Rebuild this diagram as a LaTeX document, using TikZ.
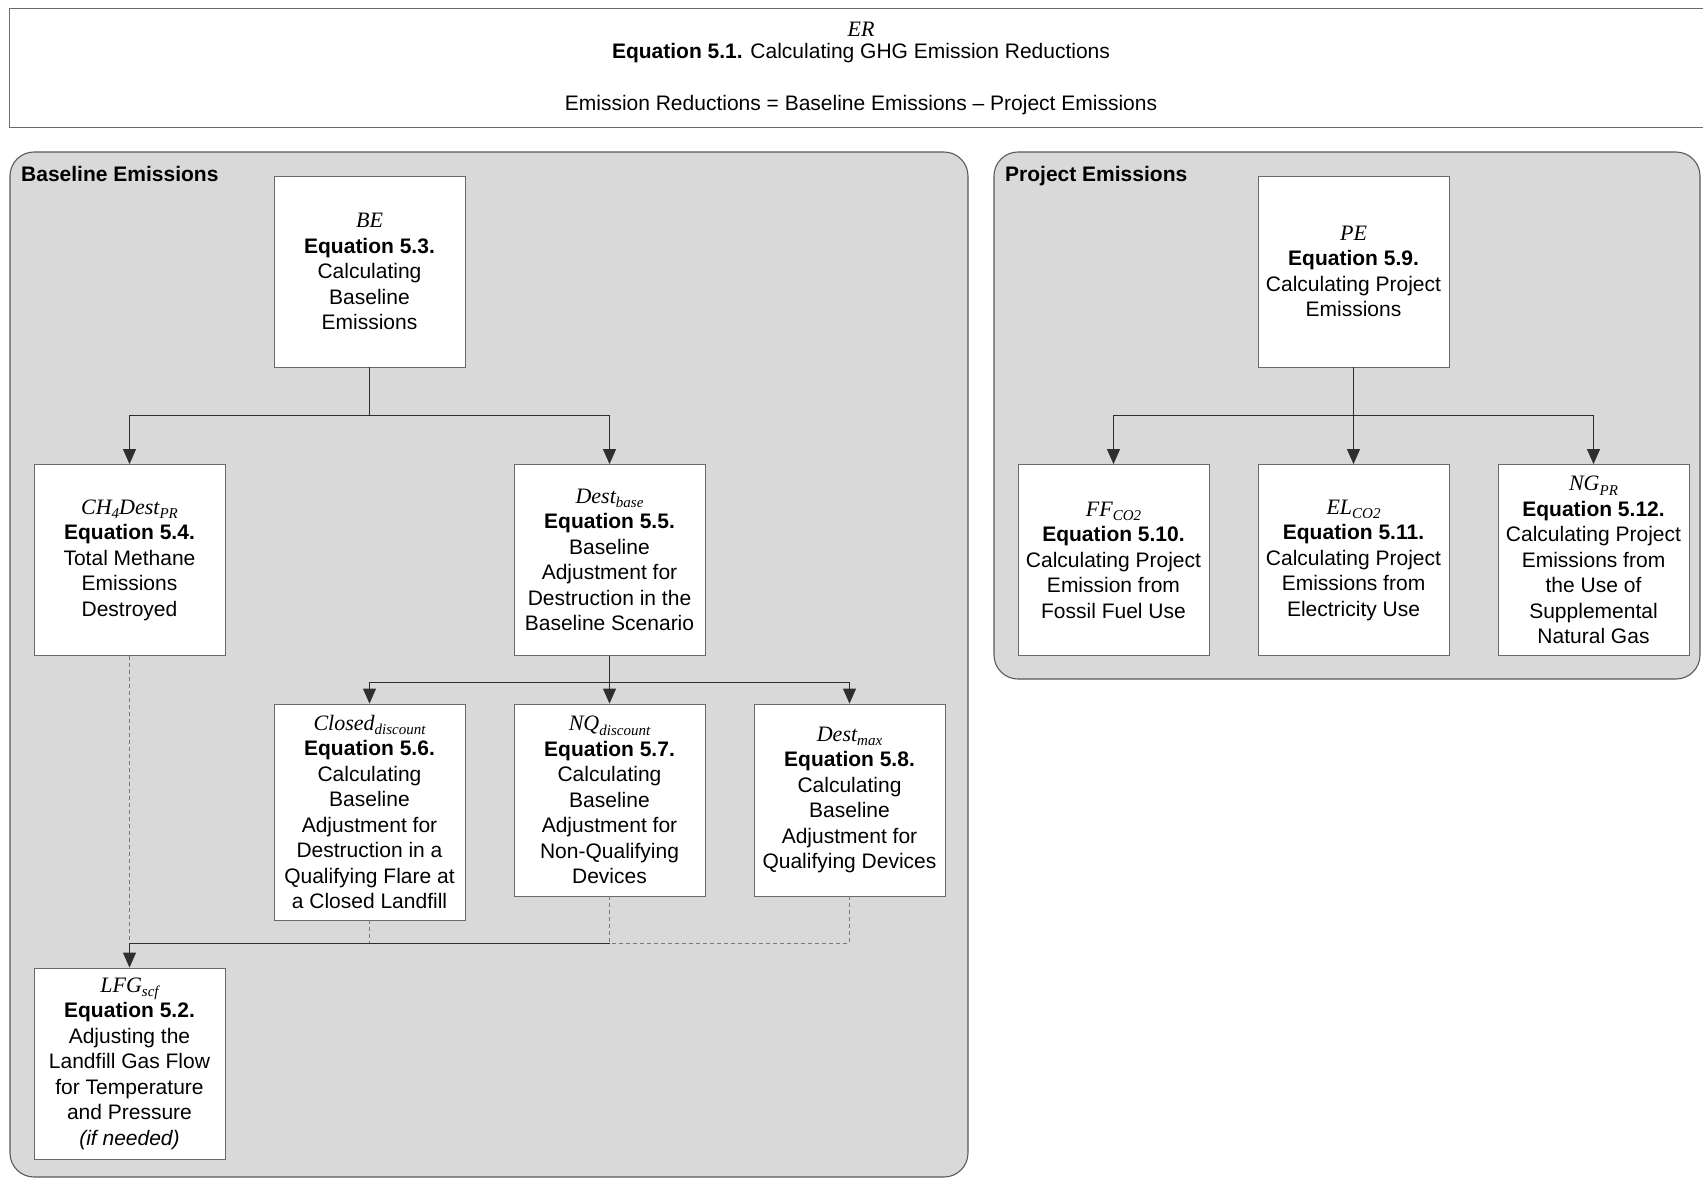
\documentclass[tikz,border=0pt]{standalone}
\usepackage{fontspec}
\setmainfont{Liberation Sans}
\newfontfamily\varfont{Liberation Serif}
\usetikzlibrary{arrows.meta}
\newcommand{\vr}[1]{{\fontsize{22}{25.5}\selectfont\varfont\itshape #1}}
\newcommand{\vsub}[1]{\raisebox{-0.22em}{\fontsize{15}{15}\selectfont\varfont\itshape #1}}
\definecolor{grpfill}{HTML}{D9D9D9}
\definecolor{grpline}{HTML}{5A5A5A}
\definecolor{boxline}{HTML}{6A6A6A}
\definecolor{conline}{HTML}{2E2E2E}
\definecolor{dashline}{HTML}{7A7A7A}
\begin{document}
\begin{tikzpicture}[x=1pt,y=-1pt,
  eqbox/.style={draw=boxline, line width=0.9pt, fill=white, minimum width=191pt, minimum height=191pt,
    align=center, inner sep=0pt, font=\fontsize{21}{25.5}\selectfont},
  grp/.style={draw=grpline, line width=1.1pt, fill=grpfill, rounded corners=24pt},
  grptitle/.style={anchor=base west, font=\fontsize{21}{25}\selectfont\bfseries, inner sep=0pt},
  arr/.style={draw=conline, line width=0.9pt, -{Triangle[width=13pt,length=15pt]}},
  con/.style={draw=conline, line width=0.9pt},
  dsh/.style={draw=dashline, line width=0.9pt, dash pattern=on 4pt off 3pt}]
\useasboundingbox (0,0) rectangle (1703,1179);
\fill[white] (0,0) rectangle (1703,1179);
% top equation box
\draw[draw=boxline, line width=0.9pt, fill=white] (9,8) rectangle (1712,127);
\node[font=\fontsize{21}{25}\selectfont] (er) at (861,29) {\vr{ER}};
\node[font=\fontsize{21}{25}\selectfont] (eq1) at (861,53) {\textbf{Equation 5.1.} Calculating GHG Emission Reductions};
\node[font=\fontsize{21}{25}\selectfont] (erf) at (861,105) {Emission Reductions = Baseline Emissions -- Project Emissions};
% groups
\path[grp] (10,152) rectangle (968,1177);
\path[grp] (994,152) rectangle (1700,679);
\node[grptitle] (bt) at (21,181) {Baseline Emissions};
\node[grptitle] (pt) at (1005,181) {Project Emissions};
% baseline boxes
\node[eqbox] (BE) at (369.5,271.5) {\vr{BE}\\\textbf{Equation 5.3.}\\Calculating\\Baseline\\Emissions};
\node[eqbox] (CH4) at (129.5,560) {\vr{CH}\vsub{4}\vr{Dest}\vsub{PR}\\\textbf{Equation 5.4.}\\Total Methane\\Emissions\\Destroyed};
\node[eqbox] (DB) at (609.5,560) {\vr{Dest}\vsub{base}\\\textbf{Equation 5.5.}\\Baseline\\Adjustment for\\Destruction in the\\Baseline Scenario};
\node[eqbox, minimum height=216pt] (CL) at (369.5,812) {\vr{Closed}\vsub{discount}\\\textbf{Equation 5.6.}\\Calculating\\Baseline\\Adjustment for\\Destruction in a\\Qualifying Flare at\\a Closed Landfill};
\node[eqbox, minimum height=192pt] (NQ) at (609.5,800) {\vr{NQ}\vsub{discount}\\\textbf{Equation 5.7.}\\Calculating\\Baseline\\Adjustment for\\Non-Qualifying\\Devices};
\node[eqbox, minimum height=192pt] (DM) at (849.5,800) {\vr{Dest}\vsub{max}\\\textbf{Equation 5.8.}\\Calculating\\Baseline\\Adjustment for\\Qualifying Devices};
\node[eqbox] (LFG) at (129.5,1063.5) {\vr{LFG}\vsub{scf}\\\textbf{Equation 5.2.}\\Adjusting the\\Landfill Gas Flow\\for Temperature\\and Pressure\\\textit{(if needed)}};
% project boxes
\node[eqbox] (PE) at (1353.5,271.5) {\vr{PE}\\\textbf{Equation 5.9.}\\Calculating Project\\Emissions};
\node[eqbox] (FF) at (1113.5,560) {\vr{FF}\vsub{CO2}\\\textbf{Equation 5.10.}\\Calculating Project\\Emission from\\Fossil Fuel Use};
\node[eqbox] (EL) at (1353.5,560) {\vr{EL}\vsub{CO2}\\\textbf{Equation 5.11.}\\Calculating Project\\Emissions from\\Electricity Use};
\node[eqbox] (NG) at (1593.5,560) {\vr{NG}\vsub{PR}\\\textbf{Equation 5.12.}\\Calculating Project\\Emissions from\\the Use of\\Supplemental\\Natural Gas};
% junctions
\coordinate (j1) at (369.5,415);
\coordinate (j2) at (609.5,682);
\coordinate (j3) at (1353.5,415);
\coordinate (jL) at (129.5,943);
\coordinate (jN) at (609.5,943);
\coordinate (jM) at (849.5,943);
\coordinate (jC) at (369.5,943);
% solid connectors
\draw[con] (BE.south) -- (j1);
\draw[arr] (j1) -| (CH4.north);
\draw[arr] (j1) -| (DB.north);
\draw[con] (DB.south) -- (j2);
\draw[arr] (j2) -| (CL.north);
\draw[arr] (j2) -- (NQ.north);
\draw[arr] (j2) -| (DM.north);
\draw[con] (PE.south) -- (j3);
\draw[arr] (j3) -| (FF.north);
\draw[arr] (j3) -- (EL.north);
\draw[arr] (j3) -| (NG.north);
% dashed feeds into LFG
\draw[dsh] (CH4.south) -- (jL);
\draw[dsh] (CL.south) -- (jC);
\draw[dsh] (NQ.south) -- (jN);
\draw[dsh] (DM.south) -- (jM) -- (jN);
\draw[con] (jN) -- (jL);
\draw[arr] (jL) -- (LFG.north);
\end{tikzpicture}
\end{document}
